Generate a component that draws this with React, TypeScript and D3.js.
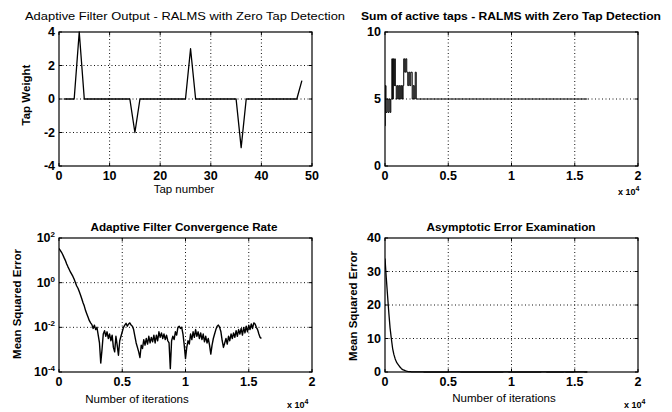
import React from 'react';
import * as d3 from 'd3';

// ---- data -------------------------------------------------------------

// Tap weight estimate per tap index (1..48)
const tapIndex = d3.range(1, 49);
const tapWeight = [
  0, 0, 0, 4, 0, 0, 0, 0, 0, 0,
  0, 0, 0, 0, -2, 0, 0, 0, 0, 0,
  0, 0, 0, 0, 0, 3, 0, 0, 0, 0,
  0, 0, 0, 0, 0, -2.9, 0, 0, 0, 0,
  0, 0, 0, 0, 0, 0, 0, 1.1,
];

// Number of active taps: iteration at which the count changes, and the new count
const activeIter = [
  0, 20, 80, 160, 240, 320, 400, 460,
  540, 600, 660, 720, 780,
  810, 890, 970, 1050, 1130, 1210, 1290, 1370, 1430,
  1480, 1560, 1640, 1720,
  1800, 1880, 1960, 2040,
  2150, 2230, 2310, 2390, 2470, 2550, 16000,
];
const activeCount = [
  3, 6, 4, 5, 4, 5, 4, 5,
  8, 5, 8, 6, 8,
  6, 5, 6, 5, 6, 5, 6, 5, 6,
  8, 7, 8, 7,
  6, 7, 6, 7,
  5, 6, 5, 7, 5, 5, 5,
];

// Mean squared error (log10), one sample every 100 iterations from 0 to 16000
const mseStep = 100;
const mseLog10 = [
  1.53, 1.45, 1.36, 1.25, 1.12, 1.0, 0.85, 0.72, 0.6, 0.48,
  0.38, 0.28, 0.15, 0.0, -0.15, -0.25, -0.4, -0.55, -0.72, -0.9,
  -1.05, -1.25, -1.4, -1.55, -1.7, -1.8, -1.88, -2.05, -1.9, -2.1,
  -2.0, -2.35, -2.7, -3.6, -3.0, -2.3, -2.15, -2.4, -2.2, -2.5,
  -2.3, -2.6, -2.35, -2.9, -3.1, -2.4, -2.8, -3.25, -2.6, -2.4,
  -2.2, -2.0, -1.9, -1.82, -1.95, -1.85, -1.8, -1.9, -1.95, -2.1,
  -2.4, -2.7, -2.9, -3.1, -3.35, -2.8, -2.95, -2.55, -2.8, -2.5,
  -2.75, -2.4, -2.7, -2.45, -2.65, -2.35, -2.7, -2.35, -2.6, -2.2,
  -2.45, -2.25, -2.5, -2.3, -2.55, -2.35, -2.6, -2.7, -3.85, -2.6,
  -2.4, -2.55, -2.2, -2.35, -2.0, -1.95, -2.05, -2.0, -2.3, -2.8,
  -3.4, -2.9, -2.6, -2.75, -2.3, -2.55, -2.2, -2.45, -2.1, -2.4,
  -2.2, -2.5, -2.25, -2.55, -2.3, -2.65, -2.4, -2.7, -2.5, -2.8,
  -3.2, -2.8, -2.5, -2.3, -2.1, -1.95, -1.9, -2.0, -2.2, -2.6,
  -2.9, -2.7, -2.5, -2.75, -2.4, -2.6, -2.3, -2.5, -2.25, -2.45,
  -2.15, -2.4, -2.1, -2.3, -2.05, -2.35, -2.0, -2.25, -1.95, -2.2,
  -1.9, -2.1, -1.85, -2.05, -1.8, -1.85, -2.0, -2.1, -2.3, -2.45,
  -2.5,
];

// Tick values
const tapTicksX = [0, 10, 20, 30, 40, 50];
const tapTicksY = [-4, -2, 0, 2, 4];
const iterTicks = [0, 5000, 10000, 15000, 20000];
const activeTicksY = [0, 5, 10];
const logTicksY = [2, 0, -2, -4];
const linTicksY = [0, 10, 20, 30, 40];

// ---- layout -----------------------------------------------------------

const FONT = "'Liberation Sans', Arial, Helvetica, sans-serif";

type Box = { x0: number; x1: number; y0: number; y1: number };
const boxTL: Box = { x0: 59, x1: 312, y0: 32, y1: 166 };
const boxTR: Box = { x0: 385, x1: 638, y0: 32, y1: 166 };
const boxBL: Box = { x0: 59, x1: 312, y0: 238, y1: 372 };
const boxBR: Box = { x0: 385, x1: 638, y0: 238, y1: 372 };

const fmtIter = (v: number) => {
  const t = v / 10000;
  return t === 0 ? '0' : String(t);
};

type AxesProps = {
  box: Box;
  xScale: d3.ScaleLinear<number, number>;
  yScale: d3.ScaleLinear<number, number>;
  xTicks: number[];
  yTicks: number[];
  xFmt: (v: number) => string;
  yLabel: (v: number) => React.ReactNode;
  path: string;
  lineWidth: number;
  title: string;
  titleX: number;
  titleY: number;
  titleLen: number;
  titleWeight: string;
  xLabel?: string;
  xLabelX?: number;
  xLabelY?: number;
  yAxisLabel: string;
  yAxisLabelX: number;
  yAxisLabelY: number;
  exponentX?: number;
  exponentY?: number;
};

function Axes(p: AxesProps) {
  const { box, xScale, yScale } = p;
  const clipId = `clip-${box.x0}-${box.y0}`;
  const tick = 3;
  return (
    <g>
      <defs>
        <clipPath id={clipId}>
          <rect x={box.x0} y={box.y0 - 1} width={box.x1 - box.x0} height={box.y1 - box.y0 + 2} />
        </clipPath>
      </defs>
      {/* dotted grid */}
      {p.xTicks.slice(1, -1).map((t) => (
        <line key={'gx' + t} x1={xScale(t)} x2={xScale(t)} y1={box.y0} y2={box.y1}
          stroke="#111" strokeWidth={1} strokeDasharray="1,2.5" />
      ))}
      {p.yTicks.filter((t) => Math.abs(yScale(t) - box.y0) > 1 && Math.abs(yScale(t) - box.y1) > 1).map((t) => (
        <line key={'gy' + t} x1={box.x0} x2={box.x1} y1={yScale(t)} y2={yScale(t)}
          stroke="#111" strokeWidth={1} strokeDasharray="1,2.5" />
      ))}
      {/* data */}
      <path d={p.path} fill="none" stroke="#000" strokeWidth={p.lineWidth} clipPath={`url(#${clipId})`} strokeLinejoin="round" />
      {/* box */}
      <rect x={box.x0} y={box.y0} width={box.x1 - box.x0} height={box.y1 - box.y0}
        fill="none" stroke="#000" strokeWidth={1.2} />
      {/* inward ticks on all sides */}
      {p.xTicks.map((t) => (
        <g key={'tx' + t}>
          <line x1={xScale(t)} x2={xScale(t)} y1={box.y1} y2={box.y1 - tick} stroke="#000" />
          <line x1={xScale(t)} x2={xScale(t)} y1={box.y0} y2={box.y0 + tick} stroke="#000" />
          <text x={xScale(t)} y={box.y1 + 14} textAnchor="middle" fontSize={12.5} fontWeight="bold" fontFamily={FONT}>
            {p.xFmt(t)}
          </text>
        </g>
      ))}
      {p.yTicks.map((t) => (
        <g key={'ty' + t}>
          <line x1={box.x0} x2={box.x0 + tick} y1={yScale(t)} y2={yScale(t)} stroke="#000" />
          <line x1={box.x1} x2={box.x1 - tick} y1={yScale(t)} y2={yScale(t)} stroke="#000" />
          <text x={box.x0 - 4} y={yScale(t) + 4} textAnchor="end" fontSize={12.5} fontWeight="bold" fontFamily={FONT}>
            {p.yLabel(t)}
          </text>
        </g>
      ))}
      {/* title */}
      <text x={p.titleX} y={p.titleY} textAnchor="middle" fontSize={11.5} fontWeight={p.titleWeight} fontFamily={FONT}
        textLength={p.titleLen} lengthAdjust="spacingAndGlyphs">
        {p.title}
      </text>
      {/* axis labels */}
      {p.xLabel && (
        <text x={p.xLabelX} y={p.xLabelY} textAnchor="middle" fontSize={11.5} fontFamily={FONT}>
          {p.xLabel}
        </text>
      )}
      {p.yAxisLabel && (
        <text transform={`translate(${p.yAxisLabelX},${p.yAxisLabelY}) rotate(-90)`} textAnchor="middle"
          fontSize={11.5} fontWeight="bold" fontFamily={FONT}>
          {p.yAxisLabel}
        </text>
      )}
      {p.exponentX !== undefined && (
        <text x={p.exponentX} y={p.exponentY} fontSize={9} fontWeight="bold" fontFamily={FONT}>
          x 10<tspan dy={-4} fontSize={7}>4</tspan>
        </text>
      )}
    </g>
  );
}

export default function App() {
  // Top-left: tap weights
  const xTap = d3.scaleLinear().domain([0, 50]).range([boxTL.x0, boxTL.x1]);
  const yTap = d3.scaleLinear().domain([-4, 4]).range([boxTL.y1, boxTL.y0]);
  const tapPath = d3.line<number>()
    .x((_, i) => xTap(tapIndex[i]))
    .y((d) => yTap(d))(tapWeight) || '';

  // Top-right: active taps (staircase)
  const xAct = d3.scaleLinear().domain([0, 20000]).range([boxTR.x0, boxTR.x1]);
  const yAct = d3.scaleLinear().domain([0, 10]).range([boxTR.y1, boxTR.y0]);
  const actPath = d3.line<number>()
    .curve(d3.curveStepAfter)
    .x((_, i) => xAct(activeIter[i]))
    .y((d) => yAct(d))(activeCount) || '';

  // Bottom-left: MSE on log scale (axis in decades)
  const xLog = d3.scaleLinear().domain([0, 20000]).range([boxBL.x0, boxBL.x1]);
  const yLog = d3.scaleLinear().domain([-4, 2]).range([boxBL.y1, boxBL.y0]);
  const logPath = d3.line<number>()
    .x((_, i) => xLog(i * mseStep))
    .y((d) => yLog(d))(mseLog10) || '';

  // Bottom-right: MSE on linear scale
  const xLin = d3.scaleLinear().domain([0, 20000]).range([boxBR.x0, boxBR.x1]);
  const yLin = d3.scaleLinear().domain([0, 40]).range([boxBR.y1, boxBR.y0]);
  const linPath = d3.line<number>()
    .x((_, i) => xLin(i * mseStep))
    .y((d) => yLin(Math.pow(10, d)))(mseLog10) || '';

  const plain = (v: number) => String(v);
  const pow10 = (v: number) => (
    <>
      10<tspan dy={-5} fontSize={8}>{v}</tspan>
    </>
  );

  return (
    <svg width={672} height={412} viewBox="0 0 672 412"
      style={{ position: 'absolute', left: 0, top: 0, background: '#fff' }}>
      <rect x={0} y={0} width={672} height={412} fill="#fff" />
      <Axes box={boxTL} xScale={xTap} yScale={yTap} xTicks={tapTicksX} yTicks={tapTicksY}
        xFmt={plain} yLabel={plain} path={tapPath} lineWidth={1.3}
        title="Adaptive Filter Output - RALMS with Zero Tap Detection" titleX={185} titleY={20} titleLen={320} titleWeight="normal"
        xLabel="Tap number" xLabelX={184} xLabelY={193}
        yAxisLabel="Tap Weight" yAxisLabelX={30} yAxisLabelY={95} />
      <Axes box={boxTR} xScale={xAct} yScale={yAct} xTicks={iterTicks} yTicks={activeTicksY}
        xFmt={fmtIter} yLabel={plain} path={actPath} lineWidth={1}
        title="Sum of active taps - RALMS with Zero Tap Detection" titleX={511} titleY={20} titleLen={300} titleWeight="bold"
        yAxisLabel="" yAxisLabelX={350} yAxisLabelY={99}
        exponentX={618} exponentY={195} />
      <Axes box={boxBL} xScale={xLog} yScale={yLog} xTicks={iterTicks} yTicks={logTicksY}
        xFmt={fmtIter} yLabel={pow10} path={logPath} lineWidth={1.4}
        title="Adaptive Filter Convergence Rate" titleX={184} titleY={231} titleLen={187} titleWeight="bold"
        xLabel="Number of iterations" xLabelX={137} xLabelY={403}
        yAxisLabel="Mean Squared Error" yAxisLabelX={21} yAxisLabelY={304}
        exponentX={287} exponentY={408} />
      <Axes box={boxBR} xScale={xLin} yScale={yLin} xTicks={iterTicks} yTicks={linTicksY}
        xFmt={fmtIter} yLabel={plain} path={linPath} lineWidth={1.3}
        title="Asymptotic Error Examination" titleX={511} titleY={231} titleLen={169} titleWeight="bold"
        xLabel="Number of iterations" xLabelX={504} xLabelY={402}
        yAxisLabel="Mean Squared Error" yAxisLabelX={357} yAxisLabelY={306}
        exponentX={624} exponentY={408} />
    </svg>
  );
}
